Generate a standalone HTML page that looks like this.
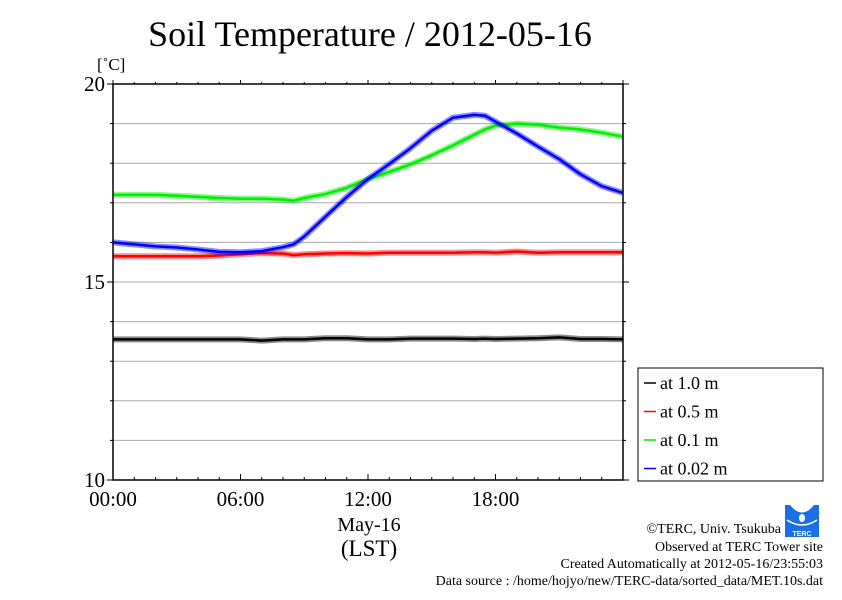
<!DOCTYPE html>
<html><head><meta charset="utf-8"><style>
body{margin:0;background:#fff;}
svg text{font-family:"Liberation Serif",serif;fill:#000;}
</style></head><body>
<svg width="842" height="595" viewBox="0 0 842 595" xmlns="http://www.w3.org/2000/svg">
<text x="370" y="46" font-size="36" text-anchor="middle">Soil Temperature / 2012-05-16</text>
<text x="97" y="70" font-size="17">[˚C]</text>
<g id="grid"></g>
<g id="series"></g>
<rect x="113" y="84" width="510" height="396" fill="none" stroke="#000" stroke-width="1.5"/>
<g id="axes"></g>
<text x="369" y="531" font-size="20" text-anchor="middle">May-16</text>
<text x="369" y="556" font-size="23" text-anchor="middle">(LST)</text>
<g>
<rect x="638" y="368" width="185" height="113" fill="#fff" stroke="#000" stroke-width="1"/>
<g id="legend"></g>
</g>
<g>
<rect x="785" y="505" width="34" height="32" fill="#1a6fe6"/>
<path d="M790 505 Q802 520 814 505 Z" fill="#fff"/>
<ellipse cx="802" cy="518" rx="3" ry="4" fill="#fff"/>
<path d="M787 520 Q802 530 817 520" stroke="#fff" fill="none" stroke-width="1.5"/>
<text x="802" y="536" font-size="7" text-anchor="middle" style="fill:#fff;font-family:'Liberation Sans',sans-serif" font-weight="bold">TERC</text>
</g>
<g font-size="14" text-anchor="end">
<text x="781" y="533">©TERC, Univ. Tsukuba</text>
<text x="823" y="551">Observed at TERC Tower site</text>
<text x="823" y="568">Created Automatically at 2012-05-16/23:55:03</text>
<text x="823" y="585">Data source : /home/hojyo/new/TERC-data/sorted_data/MET.10s.dat</text>
</g>
</svg>
<script>
const hours=[0,1,2,3,4,5,6,7,8,8.5,9,10,11,12,13,14,15,16,17,17.5,18,19,20,21,22,23,24];
const d100=[13.55,13.55,13.55,13.55,13.55,13.55,13.55,13.52,13.55,13.55,13.55,13.58,13.58,13.55,13.55,13.57,13.57,13.57,13.56,13.57,13.56,13.57,13.58,13.6,13.56,13.56,13.55];
const d050=[15.65,15.65,15.65,15.65,15.65,15.67,15.7,15.73,15.72,15.68,15.7,15.72,15.73,15.72,15.74,15.74,15.74,15.74,15.75,15.75,15.74,15.77,15.74,15.75,15.75,15.75,15.75];
const d010=[17.2,17.2,17.2,17.18,17.15,17.12,17.1,17.1,17.08,17.05,17.12,17.22,17.38,17.6,17.78,17.97,18.2,18.45,18.72,18.85,18.95,19.0,18.97,18.9,18.85,18.77,18.67];
const d002=[16.0,15.95,15.9,15.87,15.82,15.76,15.75,15.78,15.88,15.95,16.15,16.65,17.15,17.6,17.98,18.38,18.82,19.15,19.22,19.2,19.05,18.75,18.42,18.1,17.72,17.42,17.25];
const yTicks=[10,15,20];
const xTickLabels=["00:00","06:00","12:00","18:00"];
const xTickHours=[0,6,12,18];
const seriesNames=["at 1.0 m","at 0.5 m","at 0.1 m","at 0.02 m"];
const seriesColors=["#000000","#ff0000","#00ee00","#0000ff"];
const x0=113,x1=623,y0=480,y1=84;
const X=h=>x0+(x1-x0)*h/24;
const Y=v=>y0-(y0-y1)*(v-10)/10;
const NS="http://www.w3.org/2000/svg";
function mk(t,a,p){const e=document.createElementNS(NS,t);for(const k in a)e.setAttribute(k,a[k]);p.appendChild(e);return e;}
const grid=document.getElementById('grid'),axes=document.getElementById('axes');
for(let v=11;v<20;v++){
const l=mk('line',{x1:x0,x2:x1,y1:Y(v),y2:Y(v),stroke:'#aaa','stroke-width':1},grid);

}
for(let v=10;v<=20;v++){const big=v%5===0;
mk('line',{x1:x0-(big?6:3),x2:x0,y1:Y(v),y2:Y(v),stroke:'#000'},axes);
mk('line',{x1:x1,x2:x1+(big?6:3),y1:Y(v),y2:Y(v),stroke:'#000'},axes);}
yTicks.forEach(v=>{const t=mk('text',{x:x0-8,y:Y(v)+7,'font-size':21,'text-anchor':'end'},axes);t.textContent=v;

});
for(let h=0;h<=24;h++){const big=h%6===0;
mk('line',{x1:X(h),x2:X(h),y1:y0,y2:y0-(big?6:3),stroke:'#000'},axes);
mk('line',{x1:X(h),x2:X(h),y1:y1,y2:y1-(big?4:2),stroke:'#000'},axes);}
xTickHours.forEach((h,i)=>{const t=mk('text',{x:X(h),y:506,'font-size':21,'text-anchor':'middle'},axes);t.textContent=xTickLabels[i];

});
const ser=document.getElementById('series');
[d100,d050,d010,d002].forEach((d,i)=>{
const pts=d.map((v,j)=>X(hours[j]).toFixed(1)+','+Y(v).toFixed(1)).join(' ');
const halo=mk('polyline',{points:pts,fill:'none',stroke:seriesColors[i],'stroke-opacity':0.45,'stroke-width':6,'stroke-linejoin':'round'},ser);


const p=mk('polyline',{points:pts,fill:'none',stroke:seriesColors[i],'stroke-width':2.5,'stroke-linejoin':'round'},ser);

});
const lg=document.getElementById('legend');
seriesNames.forEach((n,i)=>{const y=383+i*28.5;
const l=mk('line',{x1:644,x2:656,y1:y,y2:y,stroke:seriesColors[i],'stroke-width':1.5},lg);


const t=mk('text',{x:660,y:y+6,'font-size':18},lg);t.textContent=n;

});
</script>
</body></html>
